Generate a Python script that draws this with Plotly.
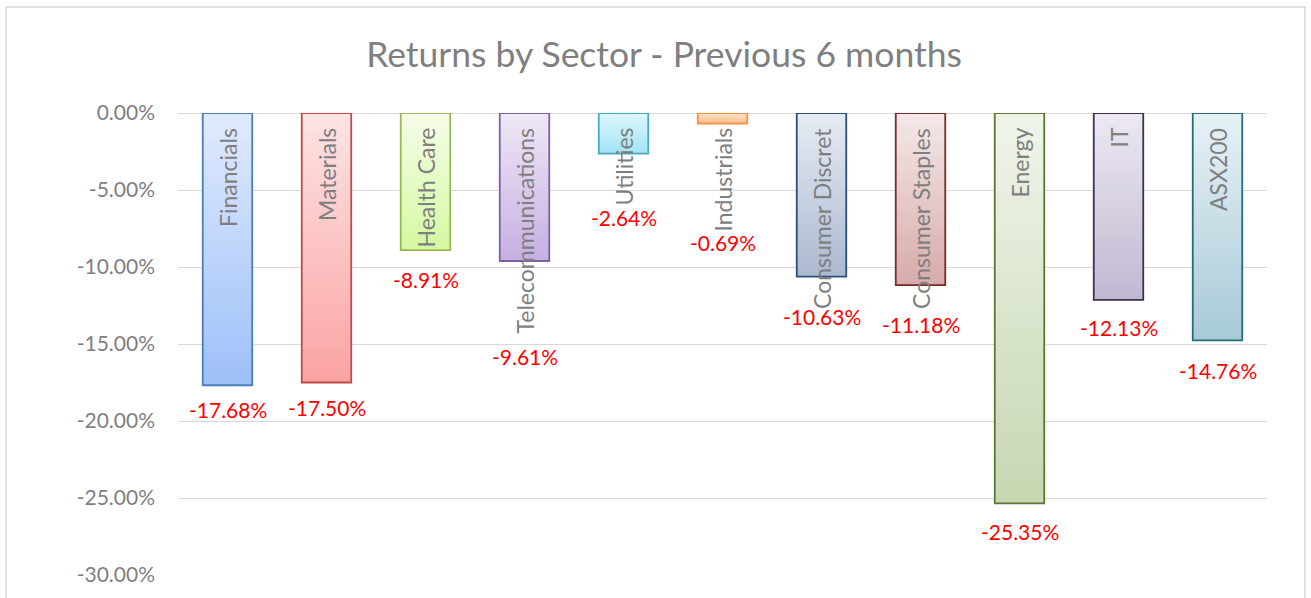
import plotly.graph_objects as go

# ---- data ----
categories = ["Financials", "Materials", "Health Care", "Telecommunications", "Utilities",
              "Industrials", "Consumer Discret", "Consumer Staples", "Energy", "IT", "ASX200"]
returns_pct = [-17.68, -17.50, -8.91, -9.61, -2.64, -0.69, -10.63, -11.18, -25.35, -12.13, -14.76]
y_tick_values = [0, -5, -10, -15, -20, -25, -30]
y_tick_labels = ["0.00%", "-5.00%", "-10.00%", "-15.00%", "-20.00%", "-25.00%", "-30.00%"]

# ---- style ----
top_colors = ["#dfeafd", "#fde3e3", "#f4fde8", "#eee7f6", "#dff6fc", "#fde5cf",
              "#e6ebf3", "#f4e8e8", "#eff4ea", "#ece8f1", "#e6f1f5"]
bottom_colors = ["#9ec0f8", "#fba4a4", "#d5f9a2", "#c6b0e2", "#a3e4f4", "#fbbb89",
                 "#abb9d0", "#d7abab", "#c7d7b2", "#c1b9d1", "#a8cad7"]
outline_colors = ["#4a7ebb", "#be4b48", "#98b954", "#7d60a0", "#46aac5", "#f69240",
                  "#2c4d75", "#772c2a", "#5f7530", "#3f3151", "#276a7c"]
label_offsets = [24, 25, 29, 96, 64, 119, 40, 39, 28, 28, 30]  # px below bar end
FONT = "Lato, 'Open Sans', sans-serif"
GREY = "#7f7f7f"
N_SEG = 40
BAR_W = 0.5


def hex_to_rgb(h):
    h = h.lstrip("#")
    return tuple(int(h[i:i + 2], 16) for i in (0, 2, 4))


def mix(c1, c2, t):
    a, b = hex_to_rgb(c1), hex_to_rgb(c2)
    return "rgb(%d,%d,%d)" % tuple(round(a[i] + (b[i] - a[i]) * t) for i in range(3))


fig = go.Figure()

# gradient fill: each bar painted as overlapping slices running from a point down to its end
for k in range(N_SEG):
    t = k / (N_SEG - 1)
    fig.add_trace(go.Bar(
        x=categories,
        y=[v * (N_SEG - k) / N_SEG for v in returns_pct],
        base=[v * k / N_SEG for v in returns_pct],
        width=BAR_W,
        marker=dict(color=[mix(tc, bc, t) for tc, bc in zip(top_colors, bottom_colors)],
                    line=dict(width=0)),
        hoverinfo="skip",
        showlegend=False,
    ))

# outline
fig.add_trace(go.Bar(
    x=categories,
    y=returns_pct,
    width=BAR_W,
    marker=dict(color="rgba(0,0,0,0)", line=dict(color=outline_colors, width=1.8)),
    showlegend=False,
    hovertemplate="%{x}: %{y:.2f}%<extra></extra>",
))

annotations = []
for cat, v, off in zip(categories, returns_pct, label_offsets):
    annotations.append(dict(
        x=cat, y=0, xref="x", yref="y", text=cat, textangle=-90,
        showarrow=False, yanchor="top", xanchor="center", yshift=-13,
        font=dict(family=FONT, size=23, color=GREY),
    ))
    annotations.append(dict(
        x=cat, y=v, xref="x", yref="y", text="%.2f%%" % v,
        showarrow=False, yanchor="middle", xanchor="center", yshift=-off,
        font=dict(family=FONT, size=21, color="#ff0000"),
    ))

fig.update_layout(
    width=1311, height=598,
    margin=dict(l=178, r=44, t=113, b=23),
    paper_bgcolor="white", plot_bgcolor="white",
    barmode="overlay",
    title=dict(text="Returns by Sector - Previous 6 months", x=664 / 1311, xanchor="center",
               y=1 - 55 / 598, yanchor="middle",
               font=dict(family=FONT, size=35.5, color=GREY)),
    xaxis=dict(showticklabels=False, showgrid=False, zeroline=False, showline=False,
               ticks="", range=[-0.5, len(categories) - 0.5]),
    yaxis=dict(range=[-30, 0], tickvals=y_tick_values, ticktext=y_tick_labels,
               showgrid=True, gridcolor="#d9d9d9", gridwidth=1.3,
               zeroline=True, zerolinecolor="#d9d9d9", zerolinewidth=1.3,
               showline=False, ticks="", ticklen=0, ticklabelstandoff=22,
               tickfont=dict(family=FONT, size=21, color=GREY)),
    annotations=annotations,
    shapes=[dict(type="rect", xref="paper", yref="paper",
                 x0=(6 - 178) / 1089, x1=(1305 - 178) / 1089,
                 y0=-0.2, y1=(575 - 7) / 462,
                 line=dict(color="#d9d9d9", width=1.5), fillcolor="rgba(0,0,0,0)",
                 layer="below")],
    font=dict(family=FONT),
)

fig.write_html("out.html")
